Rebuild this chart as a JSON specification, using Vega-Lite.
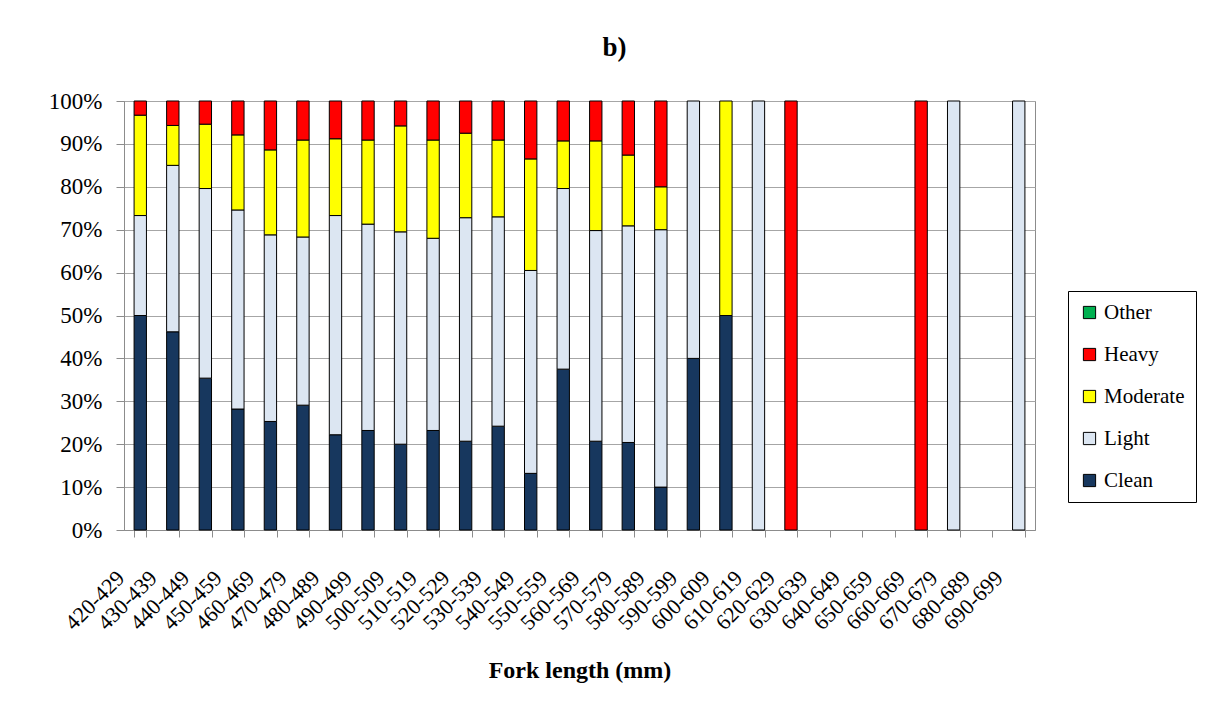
{
  "$schema": "https://vega.github.io/schema/vega-lite/v6.json",
  "width": 911,
  "height": 429,
  "autosize": {"type": "none"},
  "padding": {"left": 124, "top": 101, "right": 176, "bottom": 182},
  "background": "white",
  "title": {"text": "b)", "fontSize": 27, "fontWeight": "bold", "font": "Liberation Serif", "anchor": "middle", "frame": "group", "dx": 35, "offset": 28, "color": "black"},
  "data": {"values": [
    {"L": "420-429", "c": "Clean", "p": 50.0, "o": 1},
    {"L": "420-429", "c": "Light", "p": 23.3, "o": 2},
    {"L": "420-429", "c": "Moderate", "p": 23.4, "o": 3},
    {"L": "420-429", "c": "Heavy", "p": 3.3, "o": 4},
    {"L": "430-439", "c": "Clean", "p": 46.2, "o": 1},
    {"L": "430-439", "c": "Light", "p": 38.8, "o": 2},
    {"L": "430-439", "c": "Moderate", "p": 9.3, "o": 3},
    {"L": "430-439", "c": "Heavy", "p": 5.7, "o": 4},
    {"L": "440-449", "c": "Clean", "p": 35.4, "o": 1},
    {"L": "440-449", "c": "Light", "p": 44.2, "o": 2},
    {"L": "440-449", "c": "Moderate", "p": 15.0, "o": 3},
    {"L": "440-449", "c": "Heavy", "p": 5.4, "o": 4},
    {"L": "450-459", "c": "Clean", "p": 28.2, "o": 1},
    {"L": "450-459", "c": "Light", "p": 46.4, "o": 2},
    {"L": "450-459", "c": "Moderate", "p": 17.5, "o": 3},
    {"L": "450-459", "c": "Heavy", "p": 7.9, "o": 4},
    {"L": "460-469", "c": "Clean", "p": 25.3, "o": 1},
    {"L": "460-469", "c": "Light", "p": 43.5, "o": 2},
    {"L": "460-469", "c": "Moderate", "p": 19.8, "o": 3},
    {"L": "460-469", "c": "Heavy", "p": 11.4, "o": 4},
    {"L": "470-479", "c": "Clean", "p": 29.1, "o": 1},
    {"L": "470-479", "c": "Light", "p": 39.2, "o": 2},
    {"L": "470-479", "c": "Moderate", "p": 22.6, "o": 3},
    {"L": "470-479", "c": "Heavy", "p": 9.1, "o": 4},
    {"L": "480-489", "c": "Clean", "p": 22.2, "o": 1},
    {"L": "480-489", "c": "Light", "p": 51.1, "o": 2},
    {"L": "480-489", "c": "Moderate", "p": 17.9, "o": 3},
    {"L": "480-489", "c": "Heavy", "p": 8.8, "o": 4},
    {"L": "490-499", "c": "Clean", "p": 23.2, "o": 1},
    {"L": "490-499", "c": "Light", "p": 48.1, "o": 2},
    {"L": "490-499", "c": "Moderate", "p": 19.6, "o": 3},
    {"L": "490-499", "c": "Heavy", "p": 9.1, "o": 4},
    {"L": "500-509", "c": "Clean", "p": 20.0, "o": 1},
    {"L": "500-509", "c": "Light", "p": 49.5, "o": 2},
    {"L": "500-509", "c": "Moderate", "p": 24.7, "o": 3},
    {"L": "500-509", "c": "Heavy", "p": 5.8, "o": 4},
    {"L": "510-519", "c": "Clean", "p": 23.2, "o": 1},
    {"L": "510-519", "c": "Light", "p": 44.8, "o": 2},
    {"L": "510-519", "c": "Moderate", "p": 22.9, "o": 3},
    {"L": "510-519", "c": "Heavy", "p": 9.1, "o": 4},
    {"L": "520-529", "c": "Clean", "p": 20.7, "o": 1},
    {"L": "520-529", "c": "Light", "p": 52.1, "o": 2},
    {"L": "520-529", "c": "Moderate", "p": 19.7, "o": 3},
    {"L": "520-529", "c": "Heavy", "p": 7.5, "o": 4},
    {"L": "530-539", "c": "Clean", "p": 24.2, "o": 1},
    {"L": "530-539", "c": "Light", "p": 48.8, "o": 2},
    {"L": "530-539", "c": "Moderate", "p": 17.9, "o": 3},
    {"L": "530-539", "c": "Heavy", "p": 9.1, "o": 4},
    {"L": "540-549", "c": "Clean", "p": 13.2, "o": 1},
    {"L": "540-549", "c": "Light", "p": 47.3, "o": 2},
    {"L": "540-549", "c": "Moderate", "p": 26.0, "o": 3},
    {"L": "540-549", "c": "Heavy", "p": 13.5, "o": 4},
    {"L": "550-559", "c": "Clean", "p": 37.5, "o": 1},
    {"L": "550-559", "c": "Light", "p": 42.1, "o": 2},
    {"L": "550-559", "c": "Moderate", "p": 11.1, "o": 3},
    {"L": "550-559", "c": "Heavy", "p": 9.3, "o": 4},
    {"L": "560-569", "c": "Clean", "p": 20.7, "o": 1},
    {"L": "560-569", "c": "Light", "p": 49.1, "o": 2},
    {"L": "560-569", "c": "Moderate", "p": 20.9, "o": 3},
    {"L": "560-569", "c": "Heavy", "p": 9.3, "o": 4},
    {"L": "570-579", "c": "Clean", "p": 20.4, "o": 1},
    {"L": "570-579", "c": "Light", "p": 50.5, "o": 2},
    {"L": "570-579", "c": "Moderate", "p": 16.5, "o": 3},
    {"L": "570-579", "c": "Heavy", "p": 12.6, "o": 4},
    {"L": "580-589", "c": "Clean", "p": 10.0, "o": 1},
    {"L": "580-589", "c": "Light", "p": 60.0, "o": 2},
    {"L": "580-589", "c": "Moderate", "p": 10.0, "o": 3},
    {"L": "580-589", "c": "Heavy", "p": 20.0, "o": 4},
    {"L": "590-599", "c": "Clean", "p": 40.0, "o": 1},
    {"L": "590-599", "c": "Light", "p": 60.0, "o": 2},
    {"L": "600-609", "c": "Clean", "p": 50.0, "o": 1},
    {"L": "600-609", "c": "Moderate", "p": 50.0, "o": 3},
    {"L": "610-619", "c": "Light", "p": 100.0, "o": 2},
    {"L": "620-629", "c": "Heavy", "p": 100.0, "o": 4},
    {"L": "660-669", "c": "Heavy", "p": 100.0, "o": 4},
    {"L": "670-679", "c": "Light", "p": 100.0, "o": 2},
    {"L": "690-699", "c": "Light", "p": 100.0, "o": 2}
  ]},
  "mark": {"type": "bar", "stroke": "black", "strokeWidth": 1},
  "encoding": {
    "x": {
      "field": "L", "type": "nominal",
      "scale": {"domain": ["420-429","430-439","440-449","450-459","460-469","470-479","480-489","490-499","500-509","510-519","520-529","530-539","540-549","550-559","560-569","570-579","580-589","590-599","600-609","610-619","620-629","630-639","640-649","650-659","660-669","670-679","680-689","690-699"], "paddingInner": 0.62, "paddingOuter": 0.31},
      "axis": {
        "title": "Fork length (mm)", "titleFontSize": 24, "titleFontWeight": "bold", "titlePadding": 25,
        "labelAngle": -45, "labelAlign": "right", "labelBaseline": "middle", "labelFontSize": 22, "labelPadding": 37, "labelOffset": -20,
        "tickBand": "extent", "tickSize": 7, "tickColor": "#8c8c8c", "domainColor": "#8c8c8c", "grid": false
      }
    },
    "y": {
      "field": "p", "type": "quantitative", "stack": "normalize",
      "scale": {"domain": [0, 1]},
      "axis": {
        "title": null, "format": ".0%", "values": [0,0.1,0.2,0.3,0.4,0.5,0.6,0.7,0.8,0.9,1],
        "labelFontSize": 23, "labelPadding": 14, "tickSize": 8, "tickColor": "#8c8c8c", "domainColor": "#8c8c8c",
        "grid": true, "gridColor": "#a6a6a6", "gridWidth": 1
      }
    },
    "color": {
      "field": "c", "type": "nominal",
      "scale": {"domain": ["Other","Heavy","Moderate","Light","Clean"], "range": ["#00B050","#FF0000","#FFFF00","#DCE6F2","#17375E"]},
      "legend": {
        "title": null, "orient": "none", "legendX": 944, "legendY": 190,
        "strokeColor": "black", "padding": 11, "symbolType": "square", "symbolSize": 150,
        "symbolStrokeColor": "black", "symbolStrokeWidth": 1, "labelFontSize": 21, "rowPadding": 20, "labelOffset": 4
      }
    },
    "order": {"field": "o", "type": "quantitative"}
  },
  "config": {
    "font": "Liberation Serif",
    "axis": {"labelColor": "black", "titleColor": "black", "labelFont": "Liberation Serif", "titleFont": "Liberation Serif"},
    "legend": {"labelColor": "black", "labelFont": "Liberation Serif"},
    "view": {"stroke": "#8c8c8c"}
  }
}
